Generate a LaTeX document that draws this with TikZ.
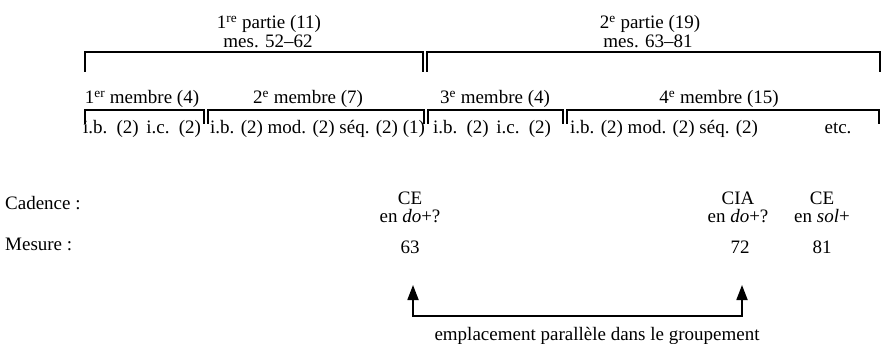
\documentclass[tikz,border=0pt]{standalone}
\usepackage{fontspec}
\setmainfont{Liberation Serif}
\usetikzlibrary{arrows.meta}
\begin{document}
\begin{tikzpicture}[x=1pt,y=-1pt,
  lbl/.style={inner sep=0pt, anchor=base, font=\fontsize{19}{22}\selectfont},
  lblw/.style={lbl, anchor=base west},
  brk/.style={line width=1.8pt},
  arr/.style={line width=1.8pt, {Triangle[width=11pt,length=15pt]}-{Triangle[width=11pt,length=15pt]}}]
\useasboundingbox (0,0) rectangle (882,344);
% top-level brackets
\draw[brk] (85,72) -- (85,52) -- (423,52) -- (423,72);
\draw[brk] (427,72) -- (427,52) -- (880,52) -- (880,72);
% second-level brackets
\draw[brk] (85,124) -- (85,110) -- (204,110) -- (204,124);
\draw[brk] (208,124) -- (208,110) -- (424,110) -- (424,124);
\draw[brk] (428,124) -- (428,110) -- (563,110) -- (563,124);
\draw[brk] (567,124) -- (567,110) -- (879,110) -- (879,124);
% parts
\node[lbl] (p1a) at (269,29) {1\textsuperscript{re} partie (11)};
\node[lbl] (p1b) at (268,48) {mes. 52--62};
\node[lbl] (p2a) at (650,29) {2\textsuperscript{e} partie (19)};
\node[lbl] (p2b) at (648,48) {mes. 63--81};
% membres
\node[lbl] (m1) at (142,104) {1\textsuperscript{er} membre (4)};
\node[lbl] (m2) at (308,104) {2\textsuperscript{e} membre (7)};
\node[lbl] (m3) at (495,104) {3\textsuperscript{e} membre (4)};
\node[lbl] (m4) at (719,104) {4\textsuperscript{e} membre (15)};
% subdivisions
\node[lblw] (s1) at (83,134) {\spaceskip=0.4em i.b. (2) i.c. (2)};
\node[lblw] (s2) at (210,134) {i.b. (2) mod. (2) séq. (2) (1)};
\node[lblw] (s3) at (433,134) {\spaceskip=0.4em i.b. (2) i.c. (2)};
\node[lblw] (s4) at (570,134) {i.b. (2) mod. (2) séq. (2)};
\node[lbl] (s5) at (838,134) {etc.};
% cadences
\node[lblw] (cad) at (5,210) {Cadence :};
\node[lblw] (mes) at (5,251) {Mesure :};
\node[lbl] (c1) at (410,205) {CE};
\node[lbl] (c1b) at (410,223) {en \textit{do}+?};
\node[lbl] (n1) at (410,254) {63};
\node[lbl] (c2) at (738,205) {CIA};
\node[lbl] (c2b) at (738,223) {en \textit{do}+?};
\node[lbl] (n2) at (740,254) {72};
\node[lbl] (c3) at (822,205) {CE};
\node[lbl] (c3b) at (822,223) {en \textit{sol}+};
\node[lbl] (n3) at (822,254) {81};
% arrow
\coordinate (tl) at (413,285);
\coordinate (tr) at (742,285);
\coordinate (bl) at (413,316);
\coordinate (br) at (742,316);
\draw[arr] (tl) -- (bl) -- (br) -- (tr);
\node[lbl] (em) at (597,340) {emplacement parallèle dans le groupement};
\end{tikzpicture}
\end{document}
